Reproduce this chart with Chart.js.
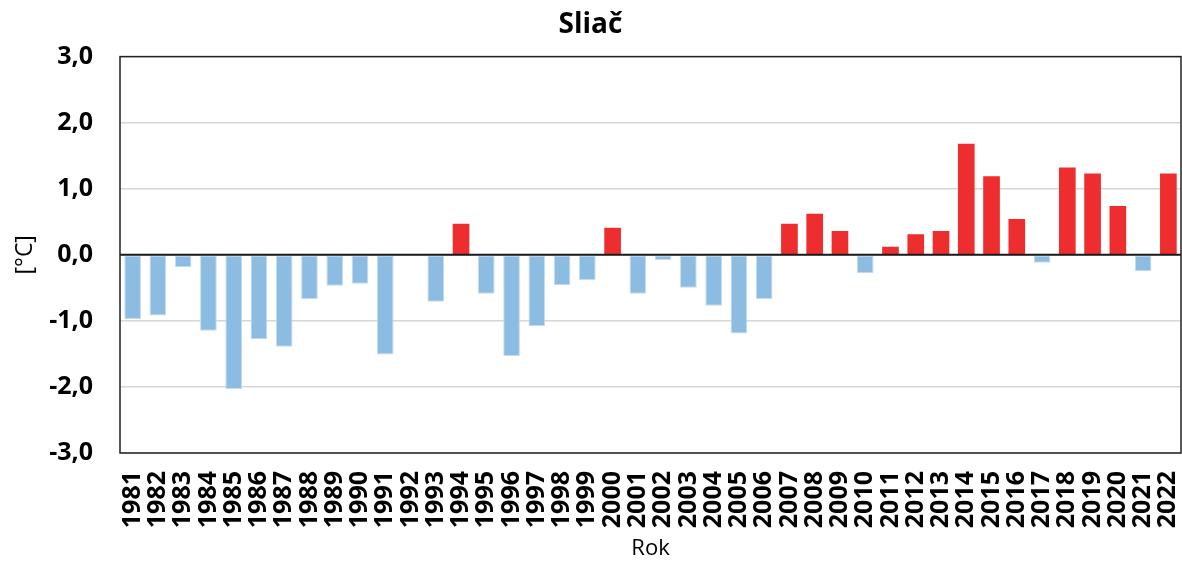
<!DOCTYPE html>
<html>
<head>
<meta charset="utf-8">
<script src="https://cdn.jsdelivr.net/npm/chart.js@4"></script>
<style>
    html, body { margin: 0; padding: 0; background: #fff; }
    #wrap { width: 1182px; height: 562px; }
</style>
</head>
<body>
<div id="wrap"><canvas id="chart" width="1182" height="562"></canvas></div>
<script>
// Data
const years = ['1981', '1982', '1983', '1984', '1985', '1986', '1987', '1988', '1989', '1990',
    '1991', '1992', '1993', '1994', '1995', '1996', '1997', '1998', '1999', '2000',
    '2001', '2002', '2003', '2004', '2005', '2006', '2007', '2008', '2009', '2010',
    '2011', '2012', '2013', '2014', '2015', '2016', '2017', '2018', '2019', '2020',
    '2021', '2022'];
const anomalies = [-0.97, -0.92, -0.19, -1.15, -2.03, -1.28, -1.39, -0.67, -0.47, -0.44,
    -1.51, 0, -0.71, 0.47, -0.59, -1.53, -1.08, -0.46, -0.38, 0.41,
    -0.59, -0.08, -0.50, -0.77, -1.19, -0.67, 0.47, 0.62, 0.36, -0.28,
    0.12, 0.31, 0.36, 1.68, 1.19, 0.54, -0.12, 1.32, 1.23, 0.74,
    -0.25, 1.23];
const yTicks = [-3, -2, -1, 0, 1, 2, 3];

const BLUE = '#8dbce2';
const RED = '#ee2e2e';
const FONT = "'Open Sans', 'Noto Sans', sans-serif";

// frame round the plot area
const framePlugin = {
    id: 'frame',
    afterDatasetsDraw(chart) {
        const { ctx, chartArea: a } = chart;
        const y0 = chart.scales.y.getPixelForValue(0);
        ctx.save();
        ctx.strokeStyle = '#1a1a1a';
        ctx.lineWidth = 2;
        ctx.beginPath();
        ctx.moveTo(a.left, y0);
        ctx.lineTo(a.right, y0);
        ctx.stroke();
        ctx.lineWidth = 1.5;
        ctx.strokeStyle = '#222';
        ctx.strokeRect(a.left, a.top, a.right - a.left, a.bottom - a.top);
        ctx.restore();
    }
};

new Chart(document.getElementById('chart'), {
    type: 'bar',
    data: {
        labels: years,
        datasets: [{
            data: anomalies,
            backgroundColor: anomalies.map(v => v < 0 ? BLUE : RED),
            borderColor: anomalies.map(v => v < 0 ? '#c4dcf0' : RED),
            borderWidth: anomalies.map(v => v < 0 ? 1 : 0),
            borderSkipped: false,
            categoryPercentage: 1.0,
            barPercentage: 0.66
        }]
    },
    options: {
        responsive: false,
        animation: false,
        layout: { padding: { left: 0, right: 1, top: 0, bottom: 0 } },
        plugins: {
            legend: { display: false },
            tooltip: { enabled: false },
            title: {
                display: true,
                text: 'Sliač',
                color: '#000',
                font: { family: FONT, size: 28, weight: 'bold', lineHeight: 1.2 },
                padding: { top: 8, bottom: 15 }
            }
        },
        scales: {
            x: {
                grid: { display: false, drawTicks: false },
                border: { display: false },
                ticks: {
                    autoSkip: false,
                    maxRotation: 90,
                    minRotation: 90,
                    padding: 18,
                    color: '#000',
                    font: { family: FONT, size: 25, weight: 'bold' }
                },
                title: {
                    display: true,
                    text: 'Rok',
                    color: '#000',
                    font: { family: FONT, size: 22 },
                    padding: 0
                },
                afterFit(scale) {
                    scale.height = 109;
                    scale.paddingLeft = 0;
                    scale.paddingRight = 0;
                }
            },
            y: {
                min: -3,
                max: 3,
                afterBuildTicks(scale) { scale.ticks = yTicks.map(v => ({ value: v })); },
                grid: { color: '#d6d6d6', lineWidth: 1.5, drawTicks: false },
                border: { display: false },
                ticks: {
                    padding: 27,
                    color: '#000',
                    font: { family: FONT, size: 25, weight: 'bold' },
                    callback: v => v.toFixed(1).replace('.', ',')
                },
                title: {
                    display: true,
                    text: '[°C]',
                    color: '#000',
                    font: { family: FONT, size: 23 },
                    padding: { top: 12, bottom: 0 }
                },
                afterFit(scale) { scale.width = 120; }
            }
        }
    },
    plugins: [framePlugin]
});
</script>
</body>
</html>
